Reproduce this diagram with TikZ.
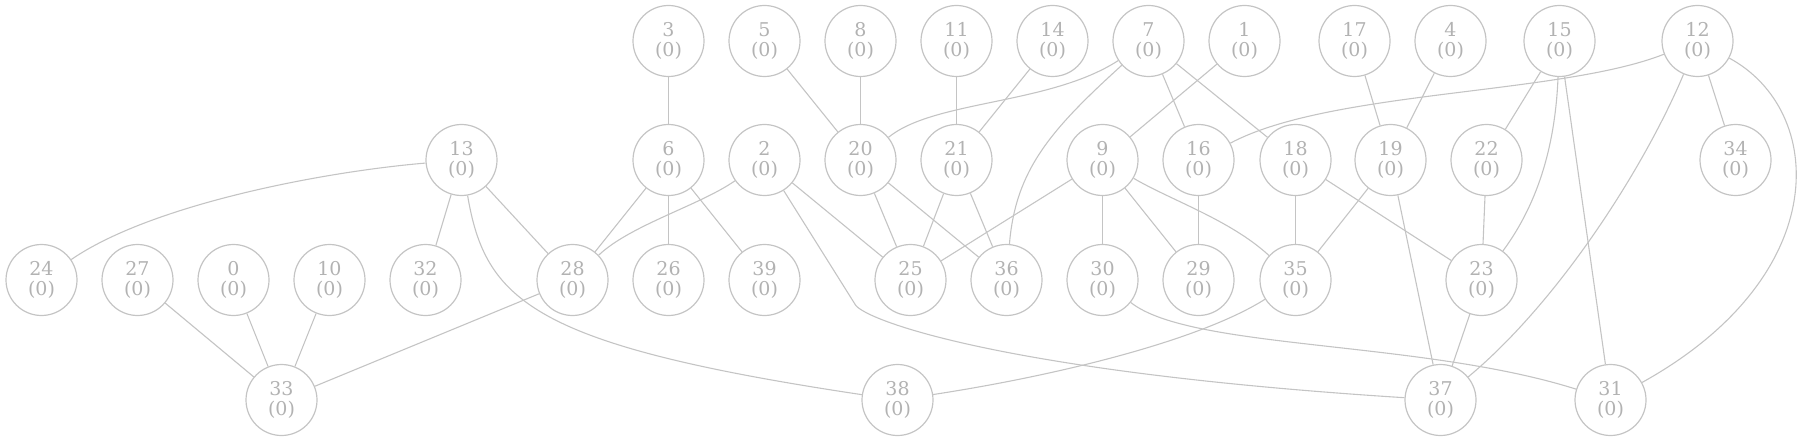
\documentclass[tikz,border=0pt]{standalone}
\usepackage{fontspec}
\setmainfont{DejaVu Serif}
\definecolor{edgegray}{RGB}{196,196,196}
\definecolor{labelgray}{RGB}{178,178,178}
\tikzset{
  vtx/.style={circle, draw=edgegray, line width=1.2pt, minimum size=71pt, inner sep=0pt,
    align=center, text=labelgray, font=\fontsize{19}{19.5}\selectfont},
  edge/.style={draw=edgegray, line width=1.1pt}
}
\begin{document}
\begin{tikzpicture}[x=1pt,y=-1pt]
\useasboundingbox (0,0) rectangle (1797,441);
\begin{scope}[xshift=0.5pt]
% row 1
\node[vtx] (n3)  at (668,41)  {3\\(0)};
\node[vtx] (n5)  at (764,41)  {5\\(0)};
\node[vtx] (n8)  at (860,41)  {8\\(0)};
\node[vtx] (n11) at (956,41)  {11\\(0)};
\node[vtx] (n14) at (1052,41) {14\\(0)};
\node[vtx] (n7)  at (1148,41) {7\\(0)};
\node[vtx] (n1)  at (1244,41) {1\\(0)};
\node[vtx] (n17) at (1354,41) {17\\(0)};
\node[vtx] (n4)  at (1450,41) {4\\(0)};
\node[vtx] (n15) at (1559,41) {15\\(0)};
\node[vtx] (n12) at (1697,41) {12\\(0)};
% row 2
\node[vtx] (n13) at (461,160)  {13\\(0)};
\node[vtx] (n6)  at (668,160)  {6\\(0)};
\node[vtx] (n2)  at (764,160)  {2\\(0)};
\node[vtx] (n20) at (860,160)  {20\\(0)};
\node[vtx] (n21) at (956,160)  {21\\(0)};
\node[vtx] (n9)  at (1102,160) {9\\(0)};
\node[vtx] (n16) at (1198,160) {16\\(0)};
\node[vtx] (n18) at (1295,160) {18\\(0)};
\node[vtx] (n19) at (1390,160) {19\\(0)};
\node[vtx] (n22) at (1486,160) {22\\(0)};
\node[vtx] (n34) at (1735,160) {34\\(0)};
% row 3
\node[vtx] (n24) at (41,280)   {24\\(0)};
\node[vtx] (n27) at (137,280)  {27\\(0)};
\node[vtx] (n0)  at (233,280)  {0\\(0)};
\node[vtx] (n10) at (329,280)  {10\\(0)};
\node[vtx] (n32) at (425,280)  {32\\(0)};
\node[vtx] (n28) at (572,280)  {28\\(0)};
\node[vtx] (n26) at (668,280)  {26\\(0)};
\node[vtx] (n39) at (764,280)  {39\\(0)};
\node[vtx] (n25) at (910,280)  {25\\(0)};
\node[vtx] (n36) at (1006,280) {36\\(0)};
\node[vtx] (n30) at (1102,280) {30\\(0)};
\node[vtx] (n29) at (1198,280) {29\\(0)};
\node[vtx] (n35) at (1295,280) {35\\(0)};
\node[vtx] (n23) at (1481,280) {23\\(0)};
% row 4
\node[vtx] (n33) at (281,400)  {33\\(0)};
\node[vtx] (n38) at (897,400)  {38\\(0)};
\node[vtx] (n37) at (1440,400) {37\\(0)};
\node[vtx] (n31) at (1610,400) {31\\(0)};
\coordinate (c237) at (855,305);
% straight edges
\foreach \a/\b in {n13/n32, n13/n28, n27/n33, n0/n33, n10/n33, n28/n33, n3/n6, n6/n28,
  n6/n26, n6/n39, n2/n25, n5/n20, n8/n20, n7/n16, n7/n18, n11/n21, n14/n21, n20/n25,
  n20/n36, n21/n25, n21/n36, n1/n9, n9/n25, n9/n30, n9/n29, n16/n29, n18/n35, n18/n23,
  n17/n19, n4/n19, n19/n35, n19/n37, n15/n22, n15/n31, n12/n34, n22/n23, n23/n37}
  \draw[edge] (\a) -- (\b);
% curved edges
\draw[edge] (n13) .. controls (320,172) and (150,205) .. (n24);
\draw[edge] (n13) .. controls (485,300) and (530,345) .. (n38);
\draw[edge] (n2) .. controls (700,205) and (630,225) .. (n28);
\draw[edge] (n2) -- (c237) .. controls (865,320) and (1000,372) .. (n37);
\draw[edge] (n7) .. controls (1049,105) and (934,100) .. (n20);
\draw[edge] (n7) .. controls (1050,130) and (1015,170) .. (n36);
\draw[edge] (n12) .. controls (1560,95) and (1330,90) .. (n16);
\draw[edge] (n9) .. controls (1170,200) and (1230,220) .. (n35);
\draw[edge] (n15) .. controls (1555,140) and (1540,200) .. (n23);
\draw[edge] (n12) .. controls (1645,165) and (1560,300) .. (n37);
\draw[edge] (n12) .. controls (1825,110) and (1835,275) .. (n31);
\draw[edge] (n35) .. controls (1200,340) and (1060,375) .. (n38);
\draw[edge] (n30) .. controls (1190,350) and (1420,340) .. (n31);
\end{scope}
\end{tikzpicture}
\end{document}
